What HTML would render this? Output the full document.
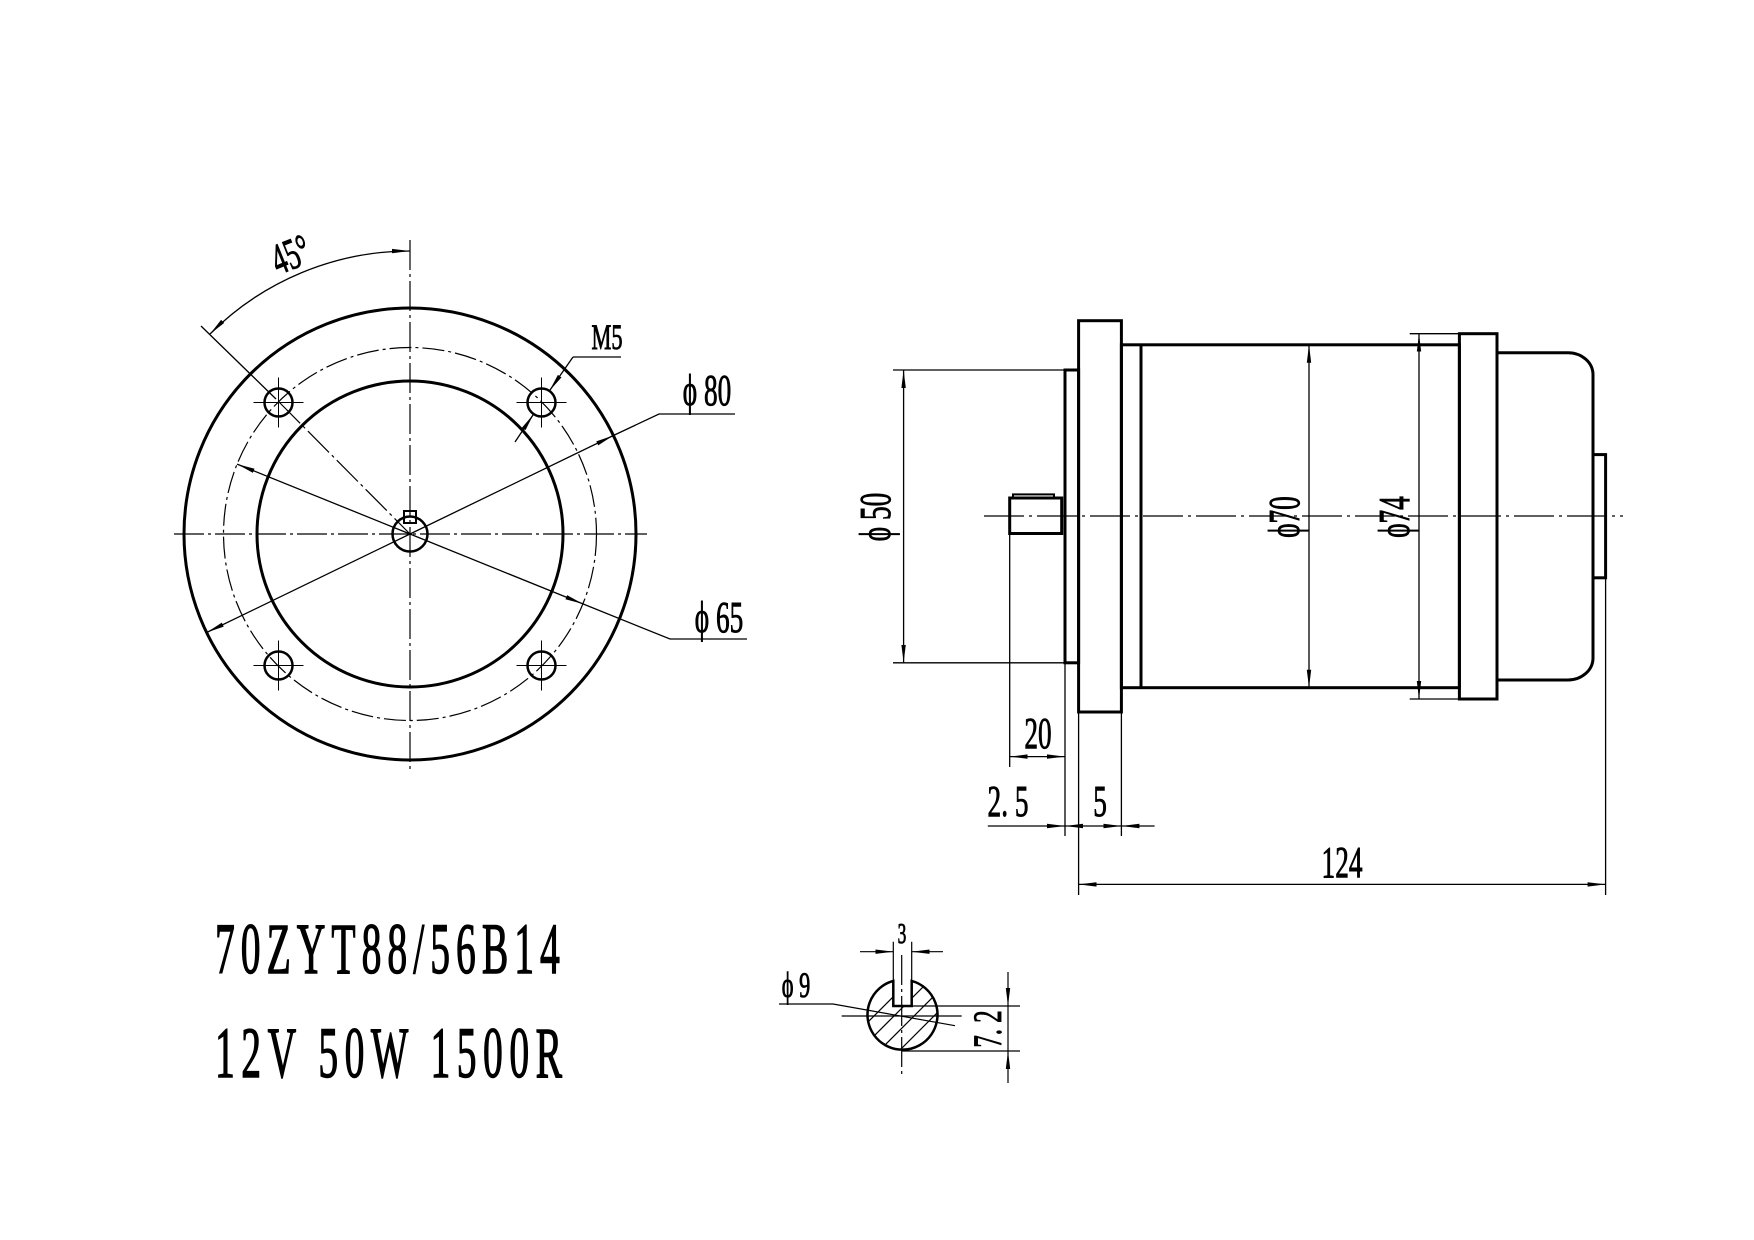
<!DOCTYPE html>
<html><head><meta charset="utf-8"><style>html,body{margin:0;padding:0;background:#fff}svg{display:block}</style></head>
<body>
<svg width="1754" height="1240" viewBox="0 0 1754 1240" xmlns="http://www.w3.org/2000/svg" font-family="'Liberation Serif',serif">
<defs>
<marker id="a" markerUnits="userSpaceOnUse" markerWidth="20" markerHeight="8" refX="18" refY="3" orient="auto-start-reverse" viewBox="0 0 20 6"><path d="M0,0.8 L18,3 L0,5.2z" fill="#000"/></marker>
<clipPath id="kc"><path d="M893.3,980.9 L893.3,1006 L911.7,1006 L911.7,980.9 A35,35 0 1 1 893.3,980.9z"/></clipPath>
</defs>
<rect width="1754" height="1240" fill="#fff"/>
<g fill="none" stroke="#000">
<circle cx="410" cy="534" r="226" stroke-width="3"/>
<circle cx="410" cy="534" r="153" stroke-width="3"/>
<circle cx="410" cy="534" r="186.5" stroke-width="1.2" stroke-dasharray="22,4,3,4"/>
<circle cx="410" cy="534" r="17.5" stroke-width="2.5"/>
<rect x="404" y="511" width="12" height="12" stroke-width="2"/>
<g stroke-width="1.2" stroke-dasharray="30,4,3,4">
<line x1="410" y1="240" x2="410" y2="770"/>
<line x1="174" y1="534" x2="647" y2="534"/>
<line x1="279" y1="402" x2="410" y2="534"/>
</g>
<g stroke-width="2.5">
<circle cx="278.5" cy="402.5" r="14"/><circle cx="541.5" cy="402.5" r="14"/>
<circle cx="278.5" cy="665.5" r="14"/><circle cx="541.5" cy="665.5" r="14"/>
</g>
<g stroke-width="1">
<path d="M253.5,402.5h50M278.5,377.5v50M516.5,402.5h50M541.5,377.5v50M253.5,665.5h50M278.5,640.5v50M516.5,665.5h50M541.5,640.5v50"/>
</g>
<g stroke-width="1.3">
<line x1="410" y1="534" x2="613.4" y2="435.5" marker-end="url(#a)"/>
<line x1="410" y1="534" x2="206.6" y2="632.5" marker-end="url(#a)"/>
<polyline points="613.4,435.5 659,414 735,414"/>
<line x1="410" y1="534" x2="582.9" y2="603.9" marker-end="url(#a)"/>
<line x1="410" y1="534" x2="237.1" y2="464.1" marker-end="url(#a)"/>
<polyline points="582.9,603.9 670,639 747,639"/>
<line x1="515" y1="442" x2="533.6" y2="414.1" marker-end="url(#a)"/>
<line x1="573" y1="357" x2="549.4" y2="390.9" marker-end="url(#a)"/>
<line x1="573" y1="357" x2="621" y2="357"/>
<line x1="201" y1="326" x2="276" y2="399"/>
<path d="M210,334 A283,283 0 0 1 410,251" marker-start="url(#a)" marker-end="url(#a)"/>
</g>
<g stroke-width="3">
<rect x="1078.6" y="320.7" width="42.8" height="391.3"/>
<rect x="1065" y="370" width="13.6" height="292.8"/>
<rect x="1121.4" y="344.8" width="338" height="342.9"/>
<line x1="1141" y1="344.8" x2="1141" y2="687.7"/>
<rect x="1459.4" y="333.7" width="37.6" height="365.3"/>
<path d="M1497,352.7 H1568 A25,22 0 0 1 1593,374.7 V658 A25,22 0 0 1 1568,680 H1497"/>
<rect x="1593" y="454.6" width="12.6" height="123.2"/>
<rect x="1009.7" y="498" width="52" height="35.5"/>
<rect x="1013" y="494.4" width="41" height="3.6" stroke-width="2"/>
</g>
<line x1="984" y1="516" x2="1623" y2="516" stroke-width="1.2" stroke-dasharray="40,5,3,5"/>
<g stroke-width="1.3">
<path d="M893,370H1065M893,662.8H1065M1409.7,333.7H1459.4M1409.7,699H1459.4"/>
<line x1="903.6" y1="370" x2="903.6" y2="662.8" marker-start="url(#a)" marker-end="url(#a)"/>
<line x1="1309" y1="344.8" x2="1309" y2="687.7" marker-start="url(#a)" marker-end="url(#a)"/>
<line x1="1419" y1="333.7" x2="1419" y2="699" marker-start="url(#a)" marker-end="url(#a)"/>
<path d="M1009.7,533.5V767M1065,662.8V836M1078.6,712V895M1121.4,712V836M1605.6,577.8V895"/>
<line x1="1009.7" y1="756.6" x2="1065" y2="756.6" marker-start="url(#a)" marker-end="url(#a)"/>
<line x1="987.8" y1="826" x2="1065" y2="826" marker-end="url(#a)"/>
<line x1="1154.6" y1="826" x2="1121.4" y2="826" marker-end="url(#a)"/>
<line x1="1065" y1="826" x2="1121.4" y2="826" marker-start="url(#a)" marker-end="url(#a)"/>
<line x1="1078.6" y1="884.4" x2="1605.6" y2="884.4" marker-start="url(#a)" marker-end="url(#a)"/>
</g>
<path d="M893.3,980.9 L893.3,1006 L911.7,1006 L911.7,980.9 A35,35 0 1 1 893.3,980.9z" stroke-width="2.5"/>
<g clip-path="url(#kc)" stroke-width="1.2">
<path d="M850,1060L940,970M870,1060L960,970M890,1060L980,970M830,1060L920,970"/>
</g>
<g stroke-width="1.2">
<line x1="901.7" y1="955" x2="901.7" y2="1077" stroke-dasharray="30,4,3,4"/>
<line x1="841.7" y1="1016" x2="961.7" y2="1016"/>
<path d="M893.3,941.7V981M911.7,941.7V981M911.7,1006H1020M901.7,1051H1020"/>
<line x1="860" y1="951.7" x2="893.3" y2="951.7" marker-end="url(#a)"/>
<line x1="943" y1="951.7" x2="911.7" y2="951.7" marker-end="url(#a)"/>
<line x1="1008" y1="972" x2="1008" y2="1006" marker-end="url(#a)"/>
<line x1="1008" y1="1083" x2="1008" y2="1051" marker-end="url(#a)"/>
<line x1="1008" y1="1006" x2="1008" y2="1051"/>
<polyline points="779,1004 833,1004 955,1025.7"/>
</g>
</g>
<g fill="#000" stroke="#000" stroke-width="0.9" font-size="44">
<text transform="translate(707,405) scale(0.62,1)" text-anchor="middle">ϕ 80</text>
<text transform="translate(719,632) scale(0.62,1)" text-anchor="middle">ϕ 65</text>
<text transform="translate(607,349) scale(0.62,1)" text-anchor="middle" font-size="36">M5</text>
<text transform="translate(296,268) rotate(-22) scale(0.62,1)" text-anchor="middle">45°</text>
<text transform="translate(890,517) rotate(-90) scale(0.62,1)" text-anchor="middle">ϕ 50</text>
<text transform="translate(1299,517) rotate(-90) scale(0.62,1)" text-anchor="middle">ϕ70</text>
<text transform="translate(1409,517) rotate(-90) scale(0.62,1)" text-anchor="middle">ϕ74</text>
<text transform="translate(1038,748) scale(0.62,1)" text-anchor="middle">20</text>
<text transform="translate(1008,816) scale(0.62,1)" text-anchor="middle">2. 5</text>
<text transform="translate(1100,816) scale(0.62,1)" text-anchor="middle">5</text>
<text transform="translate(1342,877) scale(0.62,1)" text-anchor="middle">124</text>
<text transform="translate(902,943) scale(0.62,1)" text-anchor="middle" font-size="28">3</text>
<text transform="translate(796,997) scale(0.62,1)" text-anchor="middle" font-size="36">ϕ 9</text>
<text transform="translate(1001,1029) rotate(-90) scale(0.62,1)" text-anchor="middle" font-size="40">7. 2</text>
<text transform="translate(215,973) scale(0.55,1)" font-size="72" stroke-width="1.4" textLength="627" lengthAdjust="spacing">70ZYT88/56B14</text>
<text transform="translate(215,1077) scale(0.55,1)" font-size="72" stroke-width="1.4" textLength="631" lengthAdjust="spacing">12V 50W 1500R</text>
</g>
</svg>
</body></html>
